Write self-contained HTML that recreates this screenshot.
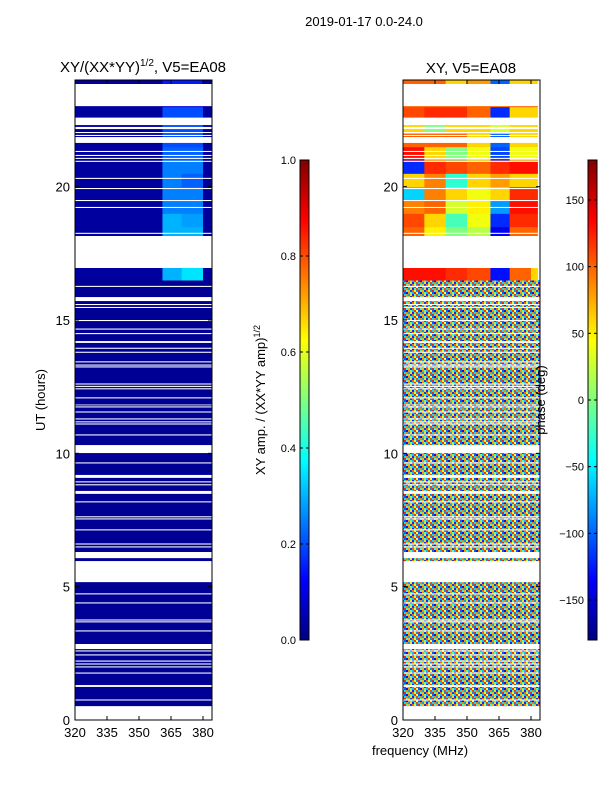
<!DOCTYPE html>
<html><head><meta charset="utf-8">
<style>
html,body{margin:0;padding:0;background:#fff;}
svg{display:block;font-family:"Liberation Sans","DejaVu Sans",sans-serif;}
</style></head>
<body>
<svg id="fig" width="600" height="800" viewBox="0 0 600 800" xmlns="http://www.w3.org/2000/svg">
<defs>
<linearGradient id="jet" x1="0" y1="1" x2="0" y2="0">
<stop offset="0" stop-color="#000080"/><stop offset="0.125" stop-color="#0000ff"/>
<stop offset="0.375" stop-color="#00ffff"/><stop offset="0.625" stop-color="#ffff00"/>
<stop offset="0.875" stop-color="#ff0000"/><stop offset="1" stop-color="#800000"/>
</linearGradient>
<pattern id="noise" width="14" height="6" patternUnits="userSpaceOnUse">
<rect width="14" height="6" fill="#ffc000"/>
<rect x="0" y="0" width="2" height="2" fill="#ff8000"/><rect x="2" y="0" width="2" height="2" fill="#00a0ff"/>
<rect x="4" y="0" width="2" height="2" fill="#ffe000"/><rect x="6" y="0" width="2" height="2" fill="#2020ff"/>
<rect x="8" y="0" width="2" height="2" fill="#40ffc0"/><rect x="10" y="0" width="2" height="2" fill="#ff4000"/>
<rect x="12" y="0" width="2" height="2" fill="#00e0ff"/>
<rect x="0" y="2" width="2" height="2" fill="#30ffd0"/><rect x="2" y="2" width="2" height="2" fill="#ffb000"/>
<rect x="4" y="2" width="2" height="2" fill="#0040ff"/><rect x="6" y="2" width="2" height="2" fill="#ff6000"/>
<rect x="8" y="2" width="2" height="2" fill="#e0ff20"/><rect x="10" y="2" width="2" height="2" fill="#0090ff"/>
<rect x="12" y="2" width="2" height="2" fill="#ff2000"/>
<rect x="0" y="4" width="2" height="2" fill="#1010e0"/><rect x="2" y="4" width="2" height="2" fill="#ff9000"/>
<rect x="4" y="4" width="2" height="2" fill="#60ff90"/><rect x="6" y="4" width="2" height="2" fill="#00c0ff"/>
<rect x="8" y="4" width="2" height="2" fill="#ff3000"/><rect x="10" y="4" width="2" height="2" fill="#ffff40"/>
<rect x="12" y="4" width="2" height="2" fill="#0060ff"/>
</pattern>
<clipPath id="clipL"><rect x="75" y="80" width="137" height="640"/></clipPath>
<clipPath id="clipR"><rect x="403" y="80" width="137" height="640"/></clipPath>
</defs>
<g id="plot"></g>
</svg>
<script>
// ---- data ----
const colEdges = [320, 330, 340, 350, 361, 370, 380, 383];
const rowEdges = [16.5, 17, 17.5, 18, 18.5, 19, 19.5, 20, 20.5, 21, 21.5, 22, 22.5, 23, 23.5, 24];
const ampValues = [
 [0.03,0.03,0.03,0.03,0.3,0.35,0.03],
 [0.03,0.03,0.03,0.03,0.1,0.1,0.03],
 [0.03,0.03,0.03,0.03,0.1,0.1,0.03],
 [0.03,0.03,0.03,0.03,0.3,0.3,0.03],
 [0.03,0.03,0.03,0.03,0.3,0.28,0.03],
 [0.03,0.03,0.03,0.03,0.25,0.25,0.03],
 [0.03,0.03,0.03,0.03,0.25,0.25,0.03],
 [0.03,0.03,0.03,0.03,0.25,0.22,0.03],
 [0.03,0.03,0.03,0.03,0.25,0.25,0.03],
 [0.03,0.03,0.03,0.03,0.22,0.22,0.03],
 [0.03,0.03,0.03,0.03,0.2,0.2,0.03],
 [0.03,0.03,0.03,0.03,0.2,0.2,0.03],
 [0.03,0.03,0.03,0.03,0.2,0.2,0.03],
 [0.03,0.03,0.03,0.03,0.1,0.1,0.03],
 [0.03,0.03,0.03,0.03,0.15,0.15,0.03]
];
const phaseValues = [
 [130,130,120,110,-130,100,60],
 [100,100,100,100,100,100,100],
 [100,100,100,100,100,100,100],
 [100,50,0,20,-140,100,100],
 [110,60,-20,40,-120,120,120],
 [90,100,30,50,-80,130,130],
 [-60,90,60,40,60,120,120],
 [60,90,-30,60,80,60,60],
 [-120,120,110,100,120,130,130],
 [130,60,0,40,-110,40,40],
 [100,100,100,60,-100,60,60],
 [60,0,60,60,30,60,60],
 [110,120,120,100,-120,60,60],
 [100,100,100,100,100,100,100],
 [100,100,60,80,-100,60,60]
];
const noiseTop = 16.5;
const gapStart = [23.02,22.31,22.16,22.01,21.9,21.64,21.3,21.15,21.04,20.93,20.29,19.91,19.46,19.2,18.23,16.95,16.24,15.71,15.56,15.45,14.96,14.64,14.47,14.14,13.92,13.77,13.41,13.29,13.22,12.58,12.49,12.4,12.06,11.8,11.72,11.53,11.27,11.16,11.08,10.67,10.01,9.62,9.08,8.91,8.8,8.48,8.16,7.6,7.52,7.11,6.58,6.47,6.07,5.17,4.71,4.37,3.73,3.66,3.32,2.66,2.57,2.42,2.19,2.08,1.97,1.74,1.24,0.73,0];
const gapEnd   = [23.85,22.59,22.24,22.05,21.94,21.86,21.34,21.19,21.08,20.97,20.33,19.95,19.5,19.24,18.27,18.15,16.28,15.86,15.6,15.49,15.0,14.68,14.51,14.21,13.96,13.81,13.45,13.33,13.26,12.62,12.53,12.44,12.1,11.83,11.76,11.57,11.31,11.2,11.12,10.71,10.31,9.66,9.19,8.95,8.84,8.59,8.2,7.64,7.56,7.15,6.62,6.51,6.3,5.96,4.75,4.41,3.77,3.7,3.36,2.85,2.61,2.46,2.23,2.12,2.01,1.78,1.31,0.77,0.52];
const xTicks = [320,335,350,365,380];
const yTicks = [0,5,10,15,20];
const ampTicks = [0.0,0.2,0.4,0.6,0.8,1.0];
const phaseTicks = [-150,-100,-50,0,50,100,150];

// ---- scales ----
const NS = "http://www.w3.org/2000/svg";
const g = document.getElementById('plot');
function xL(f){return 75 + (f-320)*32/15;}
function xR(f){return 403 + (f-320)*32/15;}
function yS(h){return 720 - h*640/24;}
function jet(v){
  v=Math.max(0,Math.min(1,v));
  const st=[[0,0,0,128],[0.125,0,0,255],[0.375,0,255,255],[0.625,255,255,0],[0.875,255,0,0],[1,128,0,0]];
  for(let i=1;i<st.length;i++){ if(v<=st[i][0]){const a=st[i-1],b=st[i],t=(v-a[0])/(b[0]-a[0]);
    return `rgb(${Math.round(a[1]+t*(b[1]-a[1]))},${Math.round(a[2]+t*(b[2]-a[2]))},${Math.round(a[3]+t*(b[3]-a[3]))})`;}}
  return 'rgb(128,0,0)';
}
function el(tag,attrs,parent){const e=document.createElementNS(NS,tag);for(const k in attrs)e.setAttribute(k,attrs[k]);(parent||g).appendChild(e);return e;}
function txt(x,y,s,size,anchor,parent,rot){const t=el('text',{x:x,y:y,'font-size':size,'text-anchor':anchor||'middle',fill:'#000'},parent);if(rot)t.setAttribute('transform',`rotate(-90 ${x} ${y})`);t.textContent=s;return t;}

// left panel
const gl = el('g',{'clip-path':'url(#clipL)'});


const lb = el('rect',{x:75,y:yS(24),width:137,height:yS(0)-yS(24),fill:jet(0.02)},gl);


for(let r=0;r<ampValues.length;r++)for(let c=0;c<ampValues[r].length;c++){
  const rc=el('rect',{x:xL(colEdges[c]),y:yS(rowEdges[r+1]),width:xL(colEdges[c+1])-xL(colEdges[c])+0.5,height:yS(rowEdges[r])-yS(rowEdges[r+1])+0.5,fill:jet(ampValues[r][c])},gl);
  
  
}
// right panel
const gr = el('g',{'clip-path':'url(#clipR)'});


const nb = el('rect',{x:403,y:yS(noiseTop),width:137,height:yS(0)-yS(noiseTop),fill:'url(#noise)'},gr);


for(let r=0;r<phaseValues.length;r++)for(let c=0;c<phaseValues[r].length;c++){
  const rc=el('rect',{x:xR(colEdges[c]),y:yS(rowEdges[r+1]),width:xR(colEdges[c+1])-xR(colEdges[c])+0.5,height:yS(rowEdges[r])-yS(rowEdges[r+1])+0.5,fill:jet((phaseValues[r][c]+180)/360)},gr);
  
  
}
// flagged gaps
for(let i=0;i<gapStart.length;i++){
  const a=el('rect',{x:75,y:yS(gapEnd[i]),width:137,height:yS(gapStart[i])-yS(gapEnd[i]),fill:'#fff'},gl);
  
  
  const b=el('rect',{x:403,y:yS(gapEnd[i]),width:137,height:yS(gapStart[i])-yS(gapEnd[i]),fill:'#fff'},gr);
  
  
}
// axes frames & ticks
[[75,xL,'left'],[403,xR,'right']].forEach(([x0,xf,nm])=>{
  const fr=el('rect',{x:x0,y:80,width:137,height:640,fill:'none',stroke:'#000','stroke-width':1});
  
  
  xTicks.forEach(t=>{
    const X=xf(t);
    el('line',{x1:X,y1:720,x2:X,y2:716,stroke:'#000'});
    el('line',{x1:X,y1:80,x2:X,y2:84,stroke:'#000'});
    const l=txt(X,737,String(t),13);
    
    
  });
  yTicks.forEach(t=>{
    const Y=yS(t);
    el('line',{x1:x0,y1:Y,x2:x0+4,y2:Y,stroke:'#000'});
    el('line',{x1:x0+137,y1:Y,x2:x0+133,y2:Y,stroke:'#000'});
    const l=txt(x0-5,Y+5,String(t),13,'end');
    
    
  });
});
// colorbars
function cbar(x,ticks,lo,hi,nm){
  const r=el('rect',{x:x,y:160,width:9,height:480,fill:'url(#jet)',stroke:'#000','stroke-width':1});
  
  
  ticks.forEach(t=>{
    const Y=640-(t-lo)/(hi-lo)*480;
    el('line',{x1:x,y1:Y,x2:x+3,y2:Y,stroke:'#000'});
    el('line',{x1:x+9,y1:Y,x2:x+6,y2:Y,stroke:'#000'});
    const s = (hi===1)? t.toFixed(1) : (t<0?'\u2212'+(-t):String(t));
    const l=txt(x-4,Y+4,s,11,'end');
    
    
  });
}
cbar(300,ampTicks,0,1,'amplitude-colorbar');
cbar(588,phaseTicks,-180,180,'phase-colorbar');
</script>
<script>
(function(){
const NS="http://www.w3.org/2000/svg", g=document.getElementById('plot');
function T(x,y,s,size,nm,rot,anchor){const t=document.createElementNS(NS,'text');t.setAttribute('x',x);t.setAttribute('y',y);t.setAttribute('font-size',size);t.setAttribute('text-anchor',anchor||'middle');


if(rot)t.setAttribute('transform',`rotate(-90 ${x} ${y})`);t.innerHTML=s;g.appendChild(t);}
T(364,26,'2019-01-17 0.0-24.0',13,'figure-title');
T(143,72,'XY/(XX*YY)<tspan font-size="10" dy="-6">1/2</tspan><tspan dy="6">, V5=EA08</tspan>',15,'left-title');
T(471,73,'XY, V5=EA08',15,'right-title');
T(45,400,'UT (hours)',13,'y-axis-title',true);
T(420,755,'frequency (MHz)',13,'x-axis-title');
T(265,400,'XY amp. / (XX*YY amp)<tspan font-size="9" dy="-5">1/2</tspan>',13,'amplitude-colorbar-title',true);
T(545,400,'phase (deg)',13,'phase-colorbar-title',true);
})();
</script>
</body></html>
